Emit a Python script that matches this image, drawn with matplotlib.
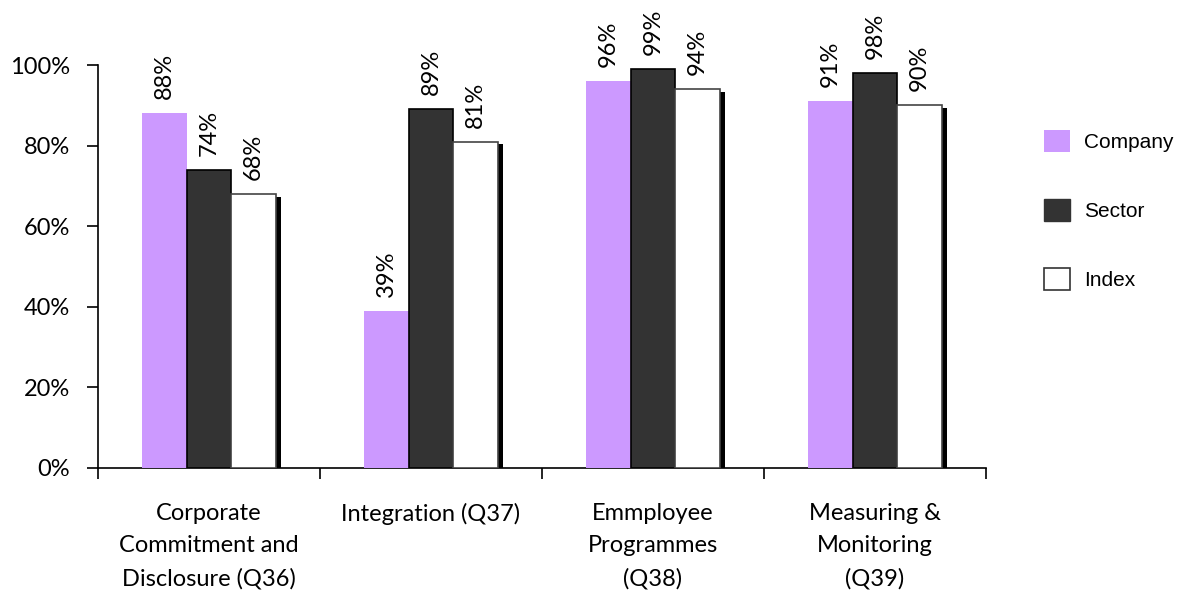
import matplotlib
matplotlib.use('Agg')
import matplotlib.pyplot as plt
import matplotlib.patheffects as pe
from matplotlib.patches import Patch
import numpy as np

# Данные
categories = ['Corporate\nCommitment and\nDisclosure (Q36)', 'Integration (Q37)',
              'Emmployee\nProgrammes\n(Q38)', 'Measuring &\nMonitoring\n(Q39)']
company = [88, 39, 96, 91]
sector = [74, 89, 99, 98]
index = [68, 81, 94, 90]

fig = plt.figure(figsize=(11.84, 5.91), dpi=100)
ax = fig.add_axes([98/1184, 1 - 468/591, (986 - 98)/1184, (468 - 65)/591])

x = np.arange(len(categories)) + 0.5
w = 0.2
label_font = 'Lato'
fs = 17

ax.bar(x - w, company, w, color='#CC99FF', edgecolor='none', zorder=3)
ax.bar(x, sector, w, color='#333333', edgecolor='black', linewidth=1.2, zorder=3)
bars_idx = ax.bar(x + w, index, w, color='white', edgecolor='#444444', linewidth=1.2, zorder=3)
for b in bars_idx:
    b.set_path_effects([pe.SimplePatchShadow(offset=(4, -2), shadow_rgbFace='black', alpha=1.0),
                        pe.Normal()])

# Подписи значений
for vals, dx in [(company, -w), (sector, 0), (index, w)]:
    for xi, v in zip(x, vals):
        ax.annotate(f'{v}%', (xi + dx, v), xytext=(0, 10), textcoords='offset points',
                    rotation=90, ha='center', va='bottom', fontsize=fs,
                    family=label_font, annotation_clip=False)

ax.set_xlim(0, len(categories))
ax.set_ylim(0, 100)
ax.set_yticks(np.arange(0, 101, 20))
ax.set_yticklabels([f'{v}%' for v in range(0, 101, 20)], family=label_font, fontsize=fs)
ax.set_xticks(np.arange(len(categories) + 1))
ax.set_xticklabels([])
ax.set_xticks(x, minor=True)
ax.set_xticklabels(categories, minor=True, family=label_font, fontsize=fs, linespacing=1.68,
                   va='top')
ax.tick_params(axis='x', which='minor', length=0, pad=25)
ax.tick_params(axis='x', which='major', length=8, width=1.2, direction='out')
ax.tick_params(axis='y', length=8, width=1.2, direction='out', pad=12)

for s in ['top', 'right']:
    ax.spines[s].set_visible(False)
for s in ['left', 'bottom']:
    ax.spines[s].set_linewidth(1.2)

handles = [Patch(facecolor='#CC99FF', edgecolor='none', label='Company'),
           Patch(facecolor='#333333', edgecolor='#333333', label='Sector'),
           Patch(facecolor='white', edgecolor='#333333', linewidth=1.2, label='Index')]
fig.legend(handles=handles, loc='center left', bbox_to_anchor=(1025/1184, 1 - 210/591),
           frameon=False, prop={'family': 'Liberation Sans', 'size': 15},
           handlelength=1.25, handleheight=1.25, labelspacing=2.27, handletextpad=0.7)

fig.savefig('out.png', dpi=100)
